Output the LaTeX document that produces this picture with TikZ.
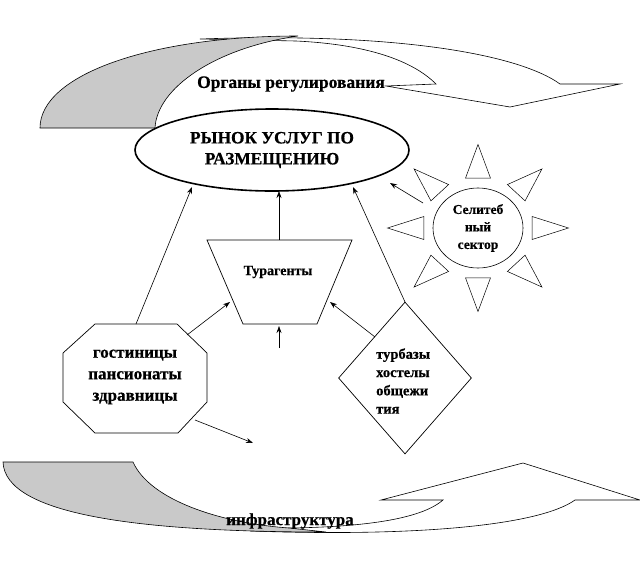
\documentclass[tikz,border=0pt]{standalone}
\usepackage{fontspec}
\setmainfont{Liberation Serif}[BoldFeatures={FakeBold=0.6}]
\usetikzlibrary{arrows.meta,shapes.geometric}
\begin{document}
\begin{tikzpicture}[x=1pt,y=-1pt,
  outline/.style={draw=black,line width=0.7pt},
  band/.style={draw=black,line width=0.6pt,fill=white},
  gband/.style={draw=black,line width=0.6pt,fill=black!21},
  conn/.style={draw=black,line width=0.6pt,-{Stealth[length=7pt,width=5pt]}},
  lbl/.style={font=\bfseries,inner sep=0pt},
  ray/.style={draw=black,line width=0.5pt,fill=white}]
\useasboundingbox (0,0) rectangle (640,568);

% ---- top curved arrow
\path[band] (200,39) .. controls (400,32) and (520,55) .. (560,84) -- (620,84) -- (510,107) -- (386,86)
   -- (436,84) .. controls (410,58) and (360,44) .. (296,41) -- cycle;
\path[gband] (40,128) .. controls (40,75) and (150,36) .. (298,36)
   .. controls (215,48) and (157,88) .. (155,128) -- cycle;
\node[lbl,font=\fontsize{17.5}{20}\bfseries] (reg) at (291,84) {Органы регулирования};

% ---- bottom curved arrow
\path[band] (250,531) .. controls (420,537) and (540,525) .. (575,500) -- (640,500) -- (523,463) -- (381,500)
   -- (443,500) .. controls (420,520) and (360,527) .. (289,528) -- cycle;
\path[gband] (3,462) -- (133,462) .. controls (150,500) and (220,523) .. (289,528)
   -- (326,532) .. controls (140,532) and (5,515) .. (3,462) -- cycle;
\node[lbl,font=\fontsize{17}{20}\bfseries] (infra) at (290,521) {инфраструктура};

% ---- market ellipse
\node[ellipse,draw,line width=1.6pt,minimum width=274pt,minimum height=82pt,inner sep=0pt,
      align=center,font=\fontsize{17.3}{21}\bfseries] (market) at (272,150) {РЫНОК УСЛУГ ПО\\РАЗМЕЩЕНИЮ};

% ---- trapezoid Турагенты
\draw[outline] (207,240) -- (352,240) -- (317,324) -- (243,324) -- cycle;
\node[lbl,font=\fontsize{14}{16}\bfseries] (agents) at (278,272) {Турагенты};

% ---- octagon
\draw[outline] (95,324) -- (177,324) -- (207,353) -- (207,402) -- (178,433) -- (95,433) -- (63,402) -- (63,353) -- cycle;
\node[lbl,align=center,font=\fontsize{17}{21.5}\bfseries] (hotels) at (135,377) {гостиницы\\пансионаты\\здравницы};

% ---- diamond
\node[diamond,draw,line width=0.7pt,minimum width=133pt,minimum height=152pt,inner sep=0pt] (hostel) at (405,378) {};
\node[lbl,align=left,anchor=west,font=\fontsize{14.5}{18.3}\bfseries] (hosteltext) at (376,381) {турбазы\\хостелы\\общежи\\тия};

% ---- sun
\begin{scope}[shift={(478,228)},xscale=1.04,yscale=0.96]
\foreach \a in {0,45,...,315}
  \draw[ray,rotate=\a] (52,-12) -- (87,0) -- (52,12) -- cycle;
\end{scope}
\node[ellipse,draw,line width=0.6pt,minimum width=90pt,minimum height=80pt,inner sep=0pt,
      align=center,font=\fontsize{13.5}{17.5}\bfseries] (sun) at (478,228) {Селитеб\\ный\\сектор};

% ---- connector end points
\coordinate (mL) at (192,187);
\coordinate (mC) at (279,191);
\coordinate (mR) at (353,187);
\coordinate (mS) at (390,183);
\coordinate (hotTop) at (136,324);
\coordinate (hotUR) at (187,335);
\coordinate (hotLR) at (195,420);
\coordinate (free) at (253,443);
\coordinate (agTop) at (279,240);
\coordinate (agL) at (230,302);
\coordinate (agR) at (330,302);
\coordinate (agB) at (279,326);
\coordinate (below) at (279,348);
\coordinate (hosTop) at (405,302);
\coordinate (hosL) at (375,337);
\coordinate (sunL) at (423,203);

\draw[conn] (hotTop) -- (mL);
\draw[conn] (agTop) -- (mC);
\draw[conn] (hosTop) -- (mR);
\draw[conn] (sunL) -- (mS);
\draw[conn] (hotUR) -- (agL);
\draw[conn] (hosL) -- (agR);
\draw[conn] (below) -- (agB);
\draw[conn] (hotLR) -- (free);
\end{tikzpicture}
\end{document}
